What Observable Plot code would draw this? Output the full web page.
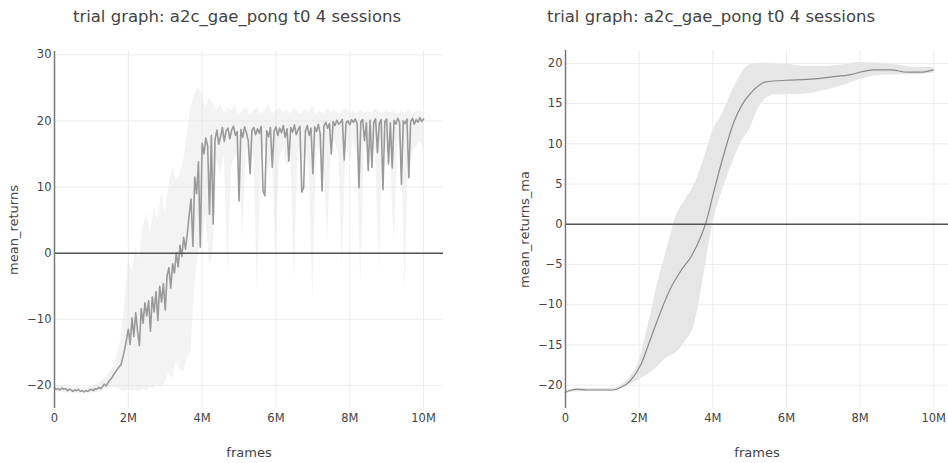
<!DOCTYPE html>
<html><head><meta charset="utf-8">
<script src="https://cdn.jsdelivr.net/npm/d3@7"></script>
<script src="https://cdn.jsdelivr.net/npm/@observablehq/plot@0.6"></script>
<style>
html,body{margin:0;padding:0;background:#fff;}
#wrap{position:relative;width:948px;height:463px;overflow:hidden;font-family:"DejaVu Sans",sans-serif;color:#444;}
.panel{position:absolute;top:0;}
.title{position:absolute;top:6px;width:474px;line-height:22px;text-align:center;font-size:16.5px;color:#444;font-family:"DejaVu Sans",sans-serif;}
#wrap svg g[aria-label$="axis label"] text{font-size:13px;}
</style></head><body>
<div id="wrap"></div>
<script>
// ---------- data ----------
const titleText = "trial graph: a2c_gae_pong t0 4 sessions";
const xTicks = [0, 2, 4, 6, 8, 10];            // millions of frames
const yTicksLeft = [-20, -10, 0, 10, 20, 30];
const yTicksRight = [-20, -15, -10, -5, 0, 5, 10, 15, 20];

// left: mean_returns sampled every 0.05M frames (0 .. 10M)
const meanReturns = [
  -20.4,-20.6,-20.5,-20.7,-20.4,-20.6,-20.5,-20.8,-20.6,-20.7,
  -20.9,-20.7,-20.8,-20.6,-20.9,-20.8,-21.0,-20.8,-20.9,-20.7,
  -20.6,-20.8,-20.5,-20.6,-20.3,-20.5,-20.2,-19.8,-20.1,-19.6,
  -19.2,-18.9,-18.4,-18.0,-17.6,-17.2,-16.9,-15.8,-14.6,-13.1,
  -11.5,-13.8,-9.8,-12.6,-9.0,-11.8,-14.0,-8.4,-10.6,-7.5,
  -9.5,-7.2,-11.8,-6.6,-8.9,-5.8,-10.2,-5.0,-7.4,-4.6,
  -8.6,-3.4,-2.2,-5.3,-1.6,-3.0,0.1,-2.1,1.2,-0.5,
  2.4,0.6,3.0,5.8,8.2,1.0,11.5,9.0,13.8,0.9,
  16.6,15.0,17.4,16.2,5.9,17.8,4.4,17.2,18.6,16.5,
  17.6,19.0,16.9,18.5,18.9,17.3,18.6,19.2,17.8,18.4,
  7.9,18.7,17.5,19.1,18.2,17.0,12.0,18.6,19.0,17.9,
  18.8,18.1,19.2,9.4,8.7,18.5,17.6,19.0,13.0,18.4,
  19.1,17.8,18.9,18.2,19.3,17.5,18.8,13.9,19.0,18.3,
  19.4,17.9,18.7,19.2,9.2,9.9,18.5,19.3,17.8,18.9,
  12.0,19.1,18.4,19.5,18.0,9.4,19.2,19.8,18.9,19.6,
  15.0,19.9,19.3,20.1,19.5,19.8,20.2,14.1,19.7,20.0,
  19.4,20.2,19.8,20.3,19.6,9.9,19.9,20.2,17.0,19.7,
  12.5,20.1,13.0,19.8,20.3,15.2,19.6,20.2,9.6,19.9,
  20.3,13.5,19.7,12.9,20.1,19.5,20.4,19.8,10.4,20.0,
  19.6,20.3,11.4,19.9,20.4,19.5,20.2,19.8,20.5,19.9,
  20.3
];
// left band, sampled every 0.1M frames (0 .. 10M)
const meanReturnsUpper = [
  -20.0,-20.1,-20.0,-20.2,-20.1,-20.3,-20.3,-20.4,-20.3,-20.4,
  -20.1,-20.0,-19.7,-19.3,-18.8,-18.0,-17.0,-15.5,-13.0,-8.0,
  -1.0,-3.0,1.0,-1.0,4.0,6.0,3.0,7.0,5.0,9.0,
  6.0,10.0,13.0,11.0,12.0,14.0,18.0,22.0,24.0,25.0,
  24.0,22.0,23.5,22.5,
  21.5,22.5,21.0,22.0,21.5,22.5,21.0,21.5,22.0,21.0,
  21.5,22.0,21.0,21.5,22.5,21.0,21.5,22.0,21.2,21.6,
  21.0,22.0,21.4,21.0,21.8,21.3,22.2,21.0,21.5,21.0,
  21.8,21.2,21.6,21.0,21.4,21.9,21.1,21.5,21.0,21.7,
  21.2,21.5,21.0,21.8,21.3,21.0,21.6,21.2,21.5,21.0,
  21.4,21.1,21.6,21.0,21.3,21.5,21.2
];
const meanReturnsLower = [
  -21.0,-21.1,-21.0,-21.2,-21.1,-21.3,-21.2,-21.3,-21.2,-21.3,
  -21.2,-21.1,-21.0,-20.8,-20.5,-20.5,-20.3,-20.5,-20.8,-21.0,
  -20.5,-21.0,-20.8,-21.0,-20.5,-20.8,-20.3,-20.6,-19.8,-20.5,
  -19.5,-18.0,-19.0,-16.5,-17.5,-18.0,-16.0,-15.0,-5.0,0.0,
  2.0,6.0,-2.0,0.0,
  14,12,15,-3,13,15,14,2,16,13,
  15,-6,14,16,12,15,0,14,16,13,
  15,-4,16,14,15,13,-7,16,15,14,
  2,16,17,15,-2,16,14,17,15,-5,
  16,17,14,16,-3,17,15,16,1,17,
  16,-6,17,15,16,17,16
];

// right: mean_returns_ma (frames in millions)
const maFrames = [0,0.1,0.3,0.6,1.0,1.3,1.5,1.77,2.05,2.32,2.59,2.86,3.13,3.40,3.66,3.80,4.03,4.30,4.58,4.80,5.03,5.44,6.02,6.57,7.2,7.74,8.10,8.37,8.83,9.28,9.64,9.99];
const maValues = [-20.9,-20.7,-20.5,-20.6,-20.6,-20.6,-20.3,-19.4,-17.4,-14.1,-10.8,-7.9,-5.8,-4.1,-1.7,0.0,4.1,8.7,12.8,14.9,16.3,17.7,17.9,18.0,18.3,18.6,19.0,19.2,19.2,18.9,18.9,19.2];
const maBandFrames = [0,0.5,1.0,1.3,1.5,1.75,2.0,2.25,2.5,2.75,3.0,3.25,3.5,3.75,4.0,4.25,4.5,4.75,5.0,5.25,5.5,5.75,6.0,6.5,7.0,7.5,8.0,8.5,9.0,9.5,10.0];
const maUpper = [-20.6,-20.4,-20.4,-20.4,-20.0,-19.0,-17.0,-12.5,-7.4,-3.2,0.9,3.0,4.9,8.0,11.6,13.6,16.3,18.5,19.8,20.0,20.0,19.9,19.9,19.6,19.6,19.8,20.1,20.0,19.8,19.5,19.5];
const maLower = [-21.0,-20.8,-20.8,-20.8,-20.4,-19.9,-19.3,-18.6,-17.7,-16.6,-16.0,-14.6,-12.5,-6.5,0.1,4.0,7.2,10.0,11.8,14.5,15.8,16.1,16.1,16.2,16.6,17.2,18.0,18.5,18.6,18.6,18.8];

// ---------- build tables ----------
const leftLine = meanReturns.map((v, i) => ({x: i * 0.05, y: v}));
const leftBand = meanReturnsUpper.map((v, i) => ({x: i * 0.1, hi: v, lo: meanReturnsLower[i]}));
const rightLine = maFrames.map((x, i) => ({x, y: maValues[i]}));
const rightBand = maBandFrames.map((x, i) => ({x, hi: maUpper[i], lo: maLower[i]}));

const fmtX = d => d === 0 ? "0" : d + "M";

function panel(o) {
  return Plot.plot({
    width: 474, height: 463,
    marginLeft: o.ml, marginRight: o.mr, marginTop: o.mt, marginBottom: 55,
    style: {fontSize: "11.5px", fontFamily: "'DejaVu Sans', sans-serif", color: "#444", background: "white"},
    x: {domain: o.xDomain, ticks: xTicks, tickFormat: fmtX, tickSize: 0, tickPadding: 5,
        label: "frames", labelAnchor: "center", labelOffset: 48, labelArrow: "none"},
    y: {domain: o.yDomain, ticks: o.yTicks, tickSize: 0, tickPadding: 3,
        label: o.yLabel, labelAnchor: "center", labelOffset: o.ylo, labelArrow: "none"},
    marks: [
      Plot.ruleY(o.yTicks, {stroke: "#ececec", strokeWidth: 1}),
      Plot.ruleX(xTicks.filter(d => d > 0), {stroke: "#ececec", strokeWidth: 1}),
      ...o.marks,
      Plot.ruleY([0], {stroke: "#555", strokeWidth: 1.5}),
      Plot.ruleX([0], {stroke: "#777", strokeWidth: 1.5})
    ]
  });
}

const left = panel({
  ml: 54, mr: 31, mt: 51, xDomain: [0, 10.54], yDomain: [-23.5, 30.5], yTicks: yTicksLeft,
  yLabel: "mean_returns", ylo: 46,
  marks: [
    Plot.areaY(leftBand, {x: "x", y1: "lo", y2: "hi", fill: "#e2e2e2", fillOpacity: 0.4}),
    Plot.line(leftLine, {x: "x", y: "y", stroke: "#9a9a9a", strokeWidth: 1.6})
  ]
});
const right = panel({
  ml: 91, mr: 0, mt: 50, xDomain: [0, 10.4], yDomain: [-22.9, 21.6], yTicks: yTicksRight,
  yLabel: "mean_returns_ma", ylo: 46,
  marks: [
    Plot.areaY(rightBand, {x: "x", y1: "lo", y2: "hi", fill: "#e6e6e6", curve: "monotone-x"}),
    Plot.line(rightLine, {x: "x", y: "y", stroke: "#8a8a8a", strokeWidth: 1.2, curve: "monotone-x"})
  ]
});

const wrap = document.getElementById("wrap");
[[left, 0], [right, 474]].forEach(([svg, x]) => {
  const d = document.createElement("div");
  d.className = "panel"; d.style.left = x + "px";
  d.appendChild(svg); wrap.appendChild(d);
  const t = document.createElement("div");
  t.className = "title"; t.style.left = x + "px"; t.textContent = titleText;
  wrap.appendChild(t);
});
</script></body></html>
